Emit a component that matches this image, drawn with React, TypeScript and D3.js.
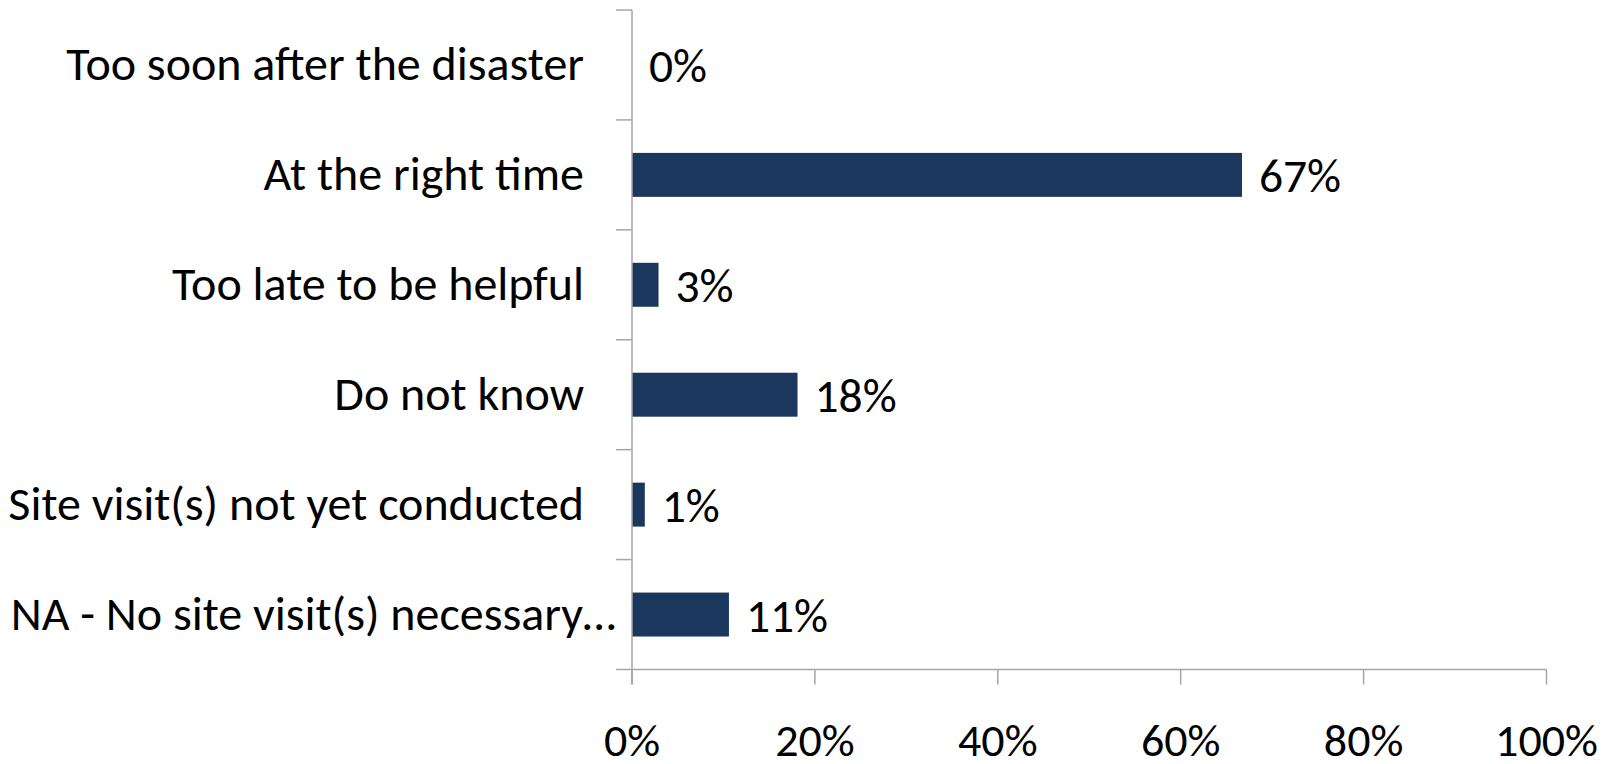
import React from "react";
import * as d3 from "d3";

const categories = [
  "Too soon after the disaster",
  "At the right time",
  "Too late to be helpful",
  "Do not know",
  "Site visit(s) not yet conducted",
  "NA - No site visit(s) necessary…",
];
const values = [0, 66.7, 2.9, 18.1, 1.4, 10.6];
const xTicks = [0, 20, 40, 60, 80, 100];
const truncated = [false, false, false, false, false, true];

const W = 1614;
const H = 764;
const FONT = "Carlito, Calibri, 'Open Sans', sans-serif";
const BAR = "#1b375e";
const AXIS = "#a6a6a6";

export default function App() {
  const x = d3.scaleLinear().domain([0, 100]).range([632, 1546.5]);
  const y = d3
    .scaleBand<string>()
    .domain(categories)
    .range([10, 669.5])
    .paddingInner(0.6)
    .paddingOuter(0.3);
  const step = y.step();
  const top = 10;
  const bottom = 669.5;
  const x0 = x(0);

  return (
    <svg
      width={W}
      height={H}
      style={{ position: "absolute", left: 0, top: 0, display: "block", background: "#fff" }}
    >
      {d3.range(categories.length + 1).map((i) => (
        <line
          key={"yt" + i}
          x1={x0 - 16}
          x2={x0}
          y1={top + i * step}
          y2={top + i * step}
          stroke={AXIS}
          strokeWidth={1.5}
        />
      ))}
      <line x1={x0} x2={x(100)} y1={bottom} y2={bottom} stroke={AXIS} strokeWidth={1.5} />
      {xTicks.map((t) => (
        <g key={"xt" + t}>
          <line x1={x(t)} x2={x(t)} y1={bottom} y2={bottom + 15} stroke={AXIS} strokeWidth={1.5} />
          <text
            x={x(t)}
            y={756}
            textAnchor="middle"
            fontFamily={FONT}
            fontSize={46}
            fill="#000"
          >
            {t + "%"}
          </text>
        </g>
      ))}
      {categories.map((c, i) => (
        <rect
          key={"b" + i}
          x={x0}
          y={y(c)!}
          width={x(values[i]) - x0}
          height={y.bandwidth()}
          fill={BAR}
        />
      ))}
      <line x1={x0} x2={x0} y1={top} y2={bottom + 15} stroke={AXIS} strokeWidth={1.5} />
      {categories.map((c, i) => (
        <text
          key={"dl" + i}
          x={x(values[i]) + 17}
          y={y(c)! + y.bandwidth() / 2 + 17}
          fontFamily={FONT}
          fontSize={47.5}
          fill="#000"
        >
          {Math.round(values[i]) + "%"}
        </text>
      ))}
      {categories.map((c, i) => (
        <text
          key={"cl" + i}
          x={truncated[i] ? 616 : 584}
          y={y(c)! + y.bandwidth() / 2 + 15}
          textAnchor="end"
          fontFamily={FONT}
          fontSize={48}
          fill="#000"
        >
          {c}
        </text>
      ))}
    </svg>
  );
}
